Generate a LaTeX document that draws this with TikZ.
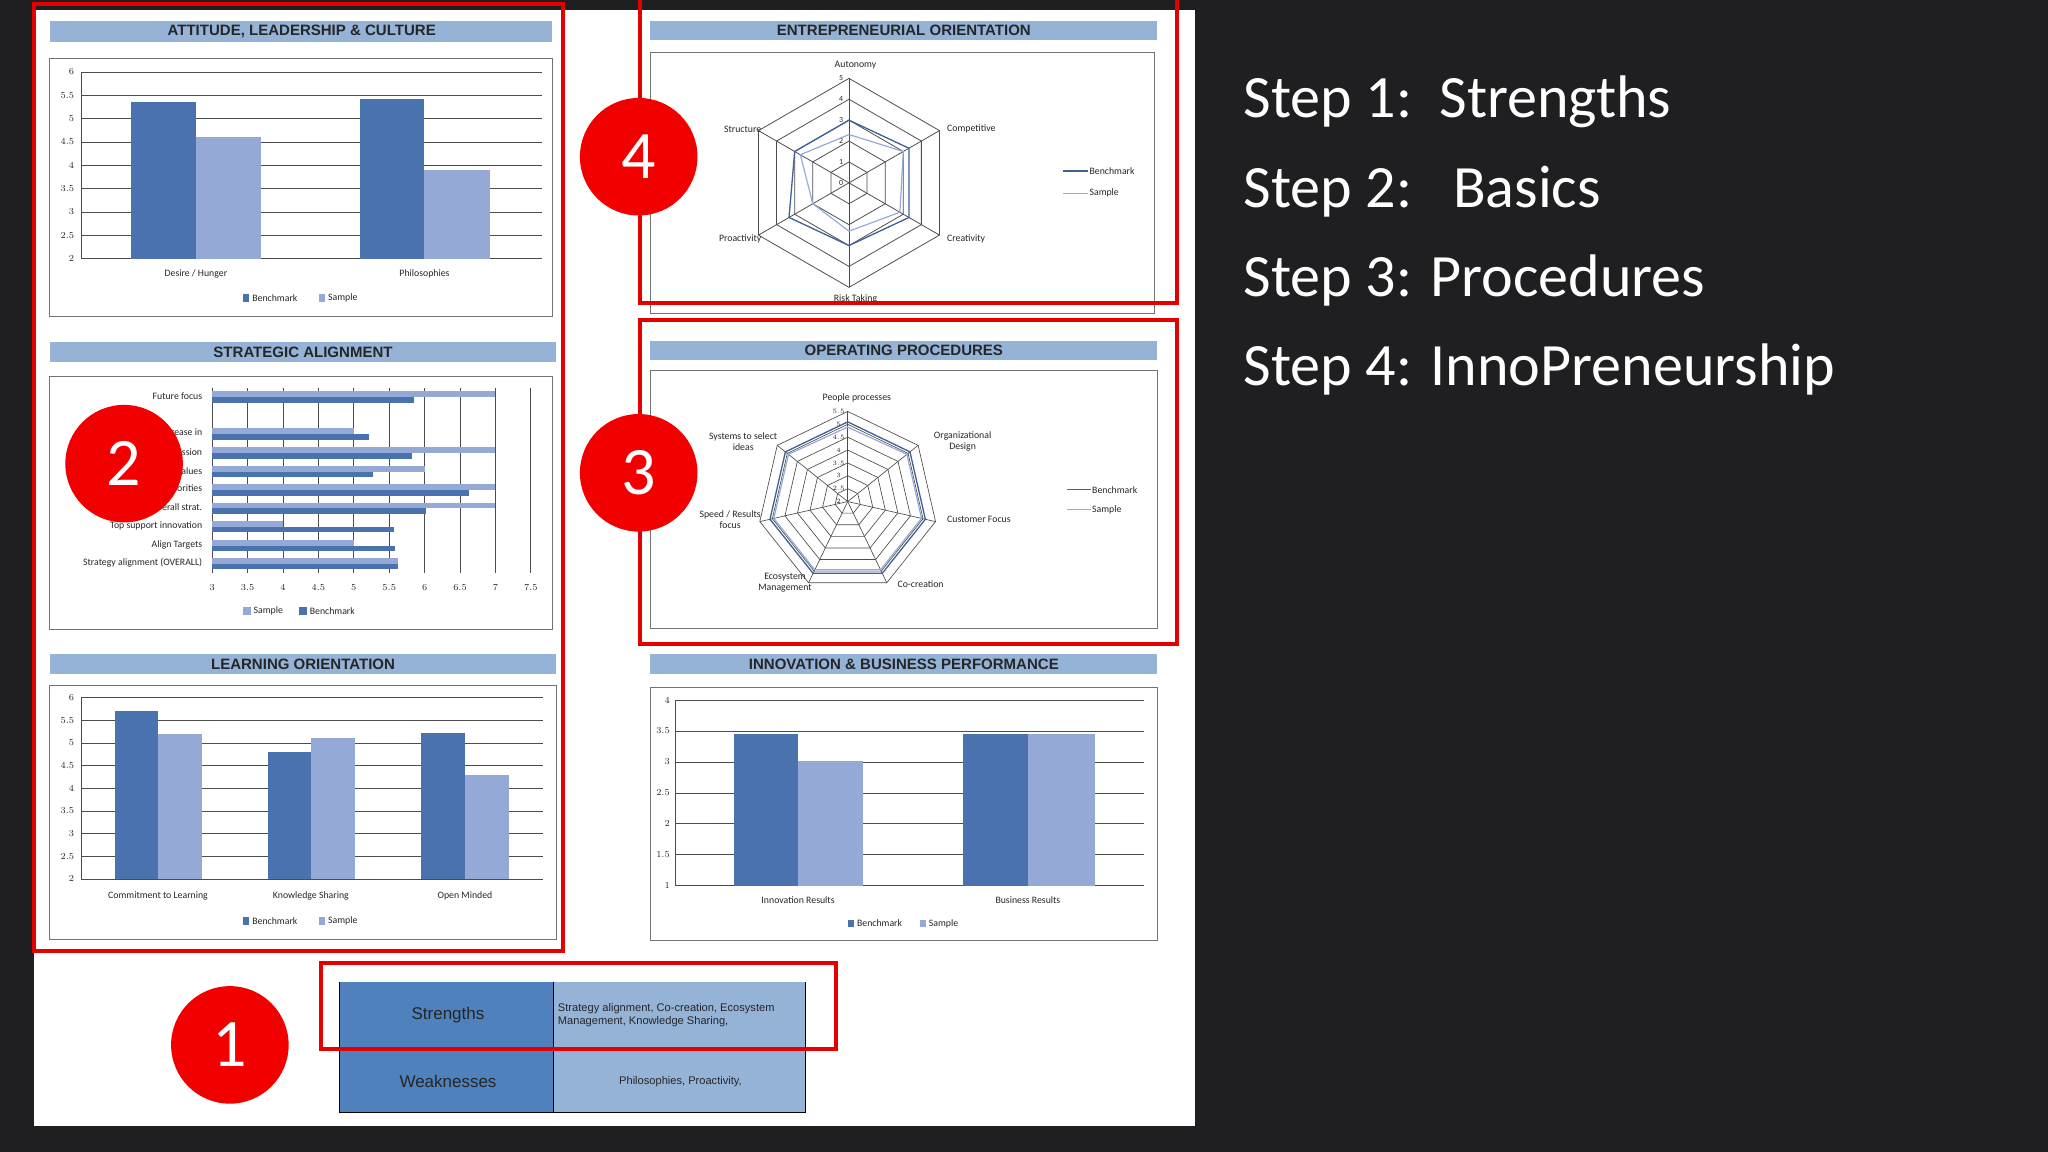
\documentclass[tikz,border=0pt]{standalone}
\usepackage{fontspec}
\setmainfont{Carlito}
\newfontfamily\arialb{Liberation Sans}
\begin{document}
\begin{tikzpicture}[x=1pt,y=-1pt,
  bench/.style={fill=bblue},
  samp/.style={fill=sblue},
  grid/.style={draw=black!70,line width=0.6pt},
  titlebar/.style={fill=tbar,draw=none},
  ttl/.style={font=\arialb\bfseries\fontsize{11.5}{12}\selectfont,text=black!85},
  tiny/.style={font=\fontsize{7.5}{8}\selectfont,text=black!85,inner sep=1pt},
  chartbox/.style={draw=black!55,line width=0.8pt},
  redbox/.style={draw=red!90!black,line width=3pt},
  redcirc/.style={circle,fill=red!95!black,minimum size=90pt,text=white,font=\fontsize{52}{54}\selectfont,inner sep=0pt},
  steptxt/.style={anchor=west,text=white!92,font=\fontsize{46}{50}\selectfont,inner sep=0pt},
  benchline/.style={draw=bblue!85!black,line width=1pt},
  sampline/.style={draw=sblue,line width=0.9pt}]
\definecolor{bg}{HTML}{1F1F21}
\definecolor{bblue}{HTML}{4A72AE}
\definecolor{sblue}{HTML}{95A9D6}
\definecolor{tbar}{HTML}{95B3D7}
\definecolor{cdark}{HTML}{4F81BD}
\definecolor{clight}{HTML}{95B3D7}
\fill[bg] (0,0) rectangle (1568,882);
\useasboundingbox (0,0) rectangle (1568,882);
\fill[white] (26,8) rectangle (915,862);

% ---------- Panel 1 ----------
\fill[titlebar] (38,16) rectangle (423,32);
\node[ttl] (t1) at (231,24) {ATTITUDE, LEADERSHIP \& CULTURE};
\draw[chartbox] (38,45) rectangle (423,242);
\foreach \i in {0,...,8}{
  \pgfmathsetmacro\yy{198-\i*17.875}
  \pgfmathsetmacro\vv{2+\i*0.5}
  \draw[grid,line width=0.4pt] (62,\yy) -- (415,\yy);
  \node[tiny,anchor=east] at (58,\yy) {\pgfmathprintnumber{\vv}};
}
\draw[grid] (62,55) -- (62,198);
\fill[bench] (100,198) rectangle (150,78);
\fill[samp] (150,198) rectangle (200,105);
\fill[bench] (276,198) rectangle (325,76);
\fill[samp] (325,198) rectangle (375,130);
\node[tiny] at (150,210) {Desire / Hunger};
\node[tiny] at (325,210) {Philosophies};
\fill[bench] (186,225) rectangle (191,231); \node[tiny,anchor=west] at (192,228) {Benchmark};
\fill[samp] (244,225) rectangle (249,231); \node[tiny,anchor=west] at (250,228) {Sample};

% ---------- Panel 2 ----------
\fill[titlebar] (38,262) rectangle (426,277);
\node[ttl] (t2) at (232,269.5) {STRATEGIC ALIGNMENT};
\draw[chartbox] (38,288) rectangle (423,482);
\foreach \i in {0,...,9}{
  \pgfmathsetmacro\xx{162.5+\i*27.1}
  \pgfmathsetmacro\vv{3+\i*0.5}
  \draw[grid] (\xx,297) -- (\xx,439);
  \node[tiny] at (\xx,450) {\pgfmathprintnumber{\vv}};
}
\foreach \ys/\s/\b/\lab in {
  301.7/7/5.85/Future focus,
  330/5/5.22/Clear goals increase in,
  344.6/7/5.82/Communication of mission,
  358.9/6/5.27/Shared values,
  373/7/6.63/Clear priorities,
  387/7/6.02/Match with overall strat.,
  401/4/5.57/Top support innovation,
  415.5/5/5.58/Align Targets,
  429.3/5.63/5.62/Strategy alignment (OVERALL)}{
  \pgfmathsetmacro\xs{162.5+(\s-3)*54.2}
  \pgfmathsetmacro\xb{162.5+(\b-3)*54.2}
  \fill[samp] (162.5,\ys-2.2) rectangle (\xs,\ys+2.2);
  \fill[bench] (162.5,\ys+2.3) rectangle (\xb,\ys+6.5);
  \node[tiny,anchor=east] at (156,\ys+1.5) {\lab};
}
\fill[samp] (186,465) rectangle (192,471); \node[tiny,anchor=west] at (193,468) {Sample};
\fill[bench] (229,465) rectangle (235,471); \node[tiny,anchor=west] at (236,468) {Benchmark};

% ---------- Panel 3 ----------
\fill[titlebar] (38,501) rectangle (426,516);
\node[ttl] (t3) at (232,508.5) {LEARNING ORIENTATION};
\draw[chartbox] (38,525) rectangle (426,719);
\foreach \i in {0,...,8}{
  \pgfmathsetmacro\yy{673-\i*17.375}
  \pgfmathsetmacro\vv{2+\i*0.5}
  \draw[grid,line width=0.4pt] (62,\yy) -- (416,\yy);
  \node[tiny,anchor=east] at (58,\yy) {\pgfmathprintnumber{\vv}};
}
\draw[grid] (62,534) -- (62,673);
\fill[bench] (88,673) rectangle (121,544);
\fill[samp] (121,673) rectangle (155,562);
\fill[bench] (205,673) rectangle (238,576);
\fill[samp] (238,673) rectangle (272,565);
\fill[bench] (322,673) rectangle (356,561);
\fill[samp] (356,673) rectangle (390,593);
\node[tiny] at (121,686) {Commitment to Learning};
\node[tiny] at (238,686) {Knowledge Sharing};
\node[tiny] at (356,686) {Open Minded};
\fill[bench] (186,702) rectangle (191,708); \node[tiny,anchor=west] at (192,705) {Benchmark};
\fill[samp] (244,702) rectangle (249,708); \node[tiny,anchor=west] at (250,705) {Sample};

% ---------- Panel 4 (radar hexagon) ----------
\fill[titlebar] (498,16) rectangle (886,31);
\node[ttl] (t4) at (692,23.5) {ENTREPRENEURIAL ORIENTATION};
\draw[chartbox] (498,40) rectangle (884,240);
\begin{scope}[shift={(650,140)}]
  \foreach \r in {16,32,48,64,80}{
    \draw[grid] (-90:\r) \foreach \a in {-30,30,90,150,210}{ -- (\a:\r)} -- cycle;
  }
  \foreach \a in {-90,-30,30,90,150,210} \draw[grid] (0,0) -- (\a:80);
  \foreach \v in {0,...,5} \node[tiny,font=\fontsize{6}{6.5}\selectfont] at (-6,-\v*16) {\v};
  \draw[benchline] (-90:48) -- (-30:53) -- (30:53) -- (90:48) -- (150:53) -- (210:48) -- cycle;
  \draw[sampline] (-90:37) -- (-30:48) -- (30:45) -- (90:37) -- (150:32) -- (210:43) -- cycle;
  \node[tiny] at (5,-90) {Autonomy};
  \node[tiny,anchor=west] at (74,-41) {Competitive};
  \node[tiny,anchor=west] at (74,43) {Creativity};
  \node[tiny] at (5,89) {Risk Taking};
  \node[tiny,anchor=east] at (-66,43) {Proactivity};
  \node[tiny,anchor=east] at (-66,-41) {Structure};
\end{scope}
\draw[benchline] (814,131) -- (833,131); \node[tiny,anchor=west] at (833,131) {Benchmark};
\draw[sampline] (814,148) -- (833,148); \node[tiny,anchor=west] at (833,148) {Sample};

% ---------- Panel 5 (radar heptagon) ----------
\fill[titlebar] (498,261) rectangle (886,276);
\node[ttl] (t5) at (692,268.5) {OPERATING PROCEDURES};
\draw[chartbox] (498,284) rectangle (886,481);
\begin{scope}[shift={(649,384)}]
  \foreach \k in {1,...,7}{
    \pgfmathsetmacro\r{\k*9.857}
    \draw[grid,line width=0.5pt] (-90:\r) \foreach \a in {-38.57,12.86,64.29,115.71,167.14,218.57}{ -- (\a:\r)} -- cycle;
  }
  \foreach \a in {-90,-38.57,12.86,64.29,115.71,167.14,218.57} \draw[grid,line width=0.5pt] (0,0) -- (\a:69);
  \foreach \k in {0,...,7}{
    \pgfmathsetmacro\vv{2+\k*0.5}
    \node[tiny,font=\fontsize{5.5}{6}\selectfont] at (-7,-\k*9.857) {\pgfmathprintnumber{\vv}};
  }
  \draw[benchline] (-90:61) \foreach \a in {-38.57,12.86,64.29,115.71,167.14,218.57}{ -- (\a:61)} -- cycle;
  \draw[sampline] (-90:57) \foreach \a in {-38.57,12.86,64.29,115.71,167.14,218.57}{ -- (\a:58)} -- cycle;
\end{scope}
\node[tiny] at (656,305) {People processes};
\node[tiny,align=center] at (737,338) {Organizational\\Design};
\node[tiny,anchor=west] at (724,398) {Customer Focus};
\node[tiny,anchor=west] at (686,447) {Co-creation};
\node[tiny,align=center] at (601,446) {Ecosystem\\Management};
\node[tiny,align=center] at (559,398) {Speed / Results\\focus};
\node[tiny,align=center] at (569,338) {Systems to select\\ideas};
\draw[benchline] (817,375) -- (835,375); \node[tiny,anchor=west] at (835,375) {Benchmark};
\draw[sampline] (817,390) -- (835,390); \node[tiny,anchor=west] at (835,390) {Sample};

% ---------- Panel 6 ----------
\fill[titlebar] (498,501) rectangle (886,516);
\node[ttl] (t6) at (692,508.5) {INNOVATION \& BUSINESS PERFORMANCE};
\draw[chartbox] (498,526) rectangle (886,720);
\foreach \i in {0,...,6}{
  \pgfmathsetmacro\yy{678-\i*23.67}
  \pgfmathsetmacro\vv{1+\i*0.5}
  \draw[grid,line width=0.4pt] (517,\yy) -- (876,\yy);
  \node[tiny,anchor=east] at (514,\yy) {\pgfmathprintnumber{\vv}};
}
\draw[grid] (517,536) -- (517,678);
\fill[bench] (562,678) rectangle (611,562);
\fill[samp] (611,678) rectangle (661,583);
\fill[bench] (737,678) rectangle (787,562);
\fill[samp] (787,678) rectangle (838,562);
\node[tiny] at (611,689) {Innovation Results};
\node[tiny] at (787,689) {Business Results};
\fill[bench] (649,704) rectangle (654,710); \node[tiny,anchor=west] at (655,707) {Benchmark};
\fill[samp] (704,704) rectangle (709,710); \node[tiny,anchor=west] at (710,707) {Sample};

% ---------- Table ----------
\fill[cdark] (260,752) rectangle (424,802);
\fill[clight] (424,752) rectangle (617,802);
\fill[cdark] (260,803) rectangle (424,852);
\fill[clight] (424,803) rectangle (617,852);
\draw[black,line width=0.8pt] (260,752) -- (260,852) (424,752) -- (424,852) (617,752) -- (617,852) (260,852) -- (617,852) (260,802.5) -- (617,802.5);
\node[font=\arialb\fontsize{13}{14}\selectfont,text=black!85] (s) at (343,777) {Strengths};
\node[font=\arialb\fontsize{13}{14}\selectfont,text=black!85] (w) at (343,828) {Weaknesses};
\node[font=\arialb\fontsize{8.5}{10}\selectfont,text=black!85,anchor=west,align=left,inner sep=1pt] (sv) at (426,777) {Strategy alignment, Co-creation, Ecosystem\\Management, Knowledge Sharing,};
\node[font=\arialb\fontsize{8.5}{10}\selectfont,text=black!85] (wv) at (521,828) {Philosophies, Proactivity,};

% ---------- Red frames & circles ----------
\draw[redbox] (26,3) rectangle (431,728);
\draw[redbox] (490,-2) rectangle (901,232);
\draw[redbox] (490,245) rectangle (901,493);
\draw[redbox] (246,737) rectangle (640,803);
\node[redcirc] (c2) at (95,355) {2};
\node[redcirc] (c4) at (489,120) {4};
\node[redcirc] (c3) at (489,362) {3};
\node[redcirc] (c1) at (176,800) {1};

% ---------- Steps ----------
\node[steptxt] (s1) at (952,78) {Step 1:\ \ Strengths};
\node[steptxt] (s2) at (952,147) {Step 2:\ \ \ Basics};
\node[steptxt] (s3) at (952,215) {Step 3: Procedures};
\node[steptxt] (s4) at (952,283) {Step 4: InnoPreneurship};
\end{tikzpicture}
\end{document}
